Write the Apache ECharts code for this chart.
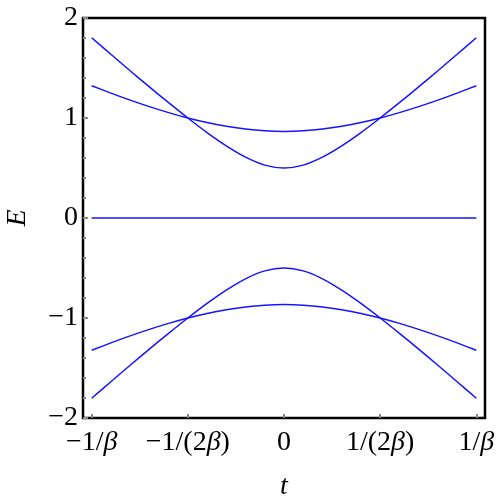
<!DOCTYPE html>
<html>
<head>
<meta charset="utf-8">
<script src="https://cdn.jsdelivr.net/npm/echarts@6/dist/echarts.min.js"></script>
<style>html,body{margin:0;padding:0;background:#fff}#c{width:500px;height:503px}</style>
</head>
<body>
<div id="c"></div>
<script>
// t in units of 1/beta
var tValues = [-1.0,-0.9,-0.8,-0.7,-0.6,-0.5,-0.4,-0.3,-0.2,-0.1,0.0,0.1,0.2,0.3,0.4,0.5,0.6,0.7,0.8,0.9,1.0];
var upperSteep = [1.803,1.637,1.473,1.311,1.153,1.000,0.854,0.721,0.608,0.529,0.500,0.529,0.608,0.721,0.854,1.000,1.153,1.311,1.473,1.637,1.803];
var upperFlat  = [1.323,1.249,1.179,1.114,1.054,1.000,0.954,0.917,0.889,0.872,0.866,0.872,0.889,0.917,0.954,1.000,1.054,1.114,1.179,1.249,1.323];
var zeroLine   = [0,0,0,0,0,0,0,0,0,0,0,0,0,0,0,0,0,0,0,0,0];
var lowerFlat  = [-1.323,-1.249,-1.179,-1.114,-1.054,-1.000,-0.954,-0.917,-0.889,-0.872,-0.866,-0.872,-0.889,-0.917,-0.954,-1.000,-1.054,-1.114,-1.179,-1.249,-1.323];
var lowerSteep = [-1.803,-1.637,-1.473,-1.311,-1.153,-1.000,-0.854,-0.721,-0.608,-0.529,-0.500,-0.529,-0.608,-0.721,-0.854,-1.000,-1.153,-1.311,-1.473,-1.637,-1.803];
var xTickValues = [-1, -0.5, 0, 0.5, 1];
var xTickLabels = ['{n|\u22121/}{b|\u03b2}', '{n|\u22121/(2}{b|\u03b2}{n|)}', '{n|0}', '{n|1/(2}{b|\u03b2}{n|)}', '{n|1/}{b|\u03b2}'];
var yTickLabels = {'-2':'\u22122','-1':'\u22121','0':'0','1':'1','2':'2'};

function pairs(ys){ return tValues.map(function(t,i){ return [t, ys[i]]; }); }

var FONT = '"Liberation Serif", "DejaVu Serif", serif';
var FS = 28;
var chart = echarts.init(document.getElementById('c'), null, {renderer:'canvas'});
var lineStyle = {color:'#1414ff', width:1.5};
function mk(name, ys){
  return {name:name, type:'line', data:pairs(ys), showSymbol:false, smooth:0.3,
          lineStyle:lineStyle, silent:true, animation:false};
}
chart.setOption({
  animation:false,
  backgroundColor:'#fff',
  grid:{left:83, right:15, top:18, bottom:85, outerBoundsMode:'none', containLabel:false,
        show:true, borderColor:'#000', borderWidth:2.5, backgroundColor:'transparent'},
  xAxis:{
    type:'value', min:-1.045, max:1.045,
    name:'t', nameLocation:'middle', nameGap:55,
    nameTextStyle:{fontFamily:FONT, fontStyle:'italic', fontSize:FS, color:'#000'},
    axisLine:{show:false, onZero:false},
    splitLine:{show:false},
    axisTick:{show:true, inside:true, length:4, customValues:xTickValues, lineStyle:{color:'#888', width:2}},
    axisLabel:{show:true, margin:11, customValues:xTickValues, hideOverlap:false,
      formatter:function(v){ var i = xTickValues.indexOf(Math.round(v*2)/2); return i>=0 ? xTickLabels[i] : ''; },
      rich:{n:{fontFamily:FONT, fontSize:FS, color:'#000'}, b:{fontFamily:FONT, fontSize:FS, fontStyle:'italic', color:'#000'}}
    }
  },
  yAxis:{
    type:'value', min:-2, max:2, interval:1,
    name:'E', nameLocation:'middle', nameGap:51, nameRotate:90,
    nameTextStyle:{fontFamily:FONT, fontStyle:'italic', fontSize:FS, color:'#000'},
    axisLine:{show:false, onZero:false},
    splitLine:{show:false},
    axisTick:{show:true, inside:true, length:5, lineStyle:{color:'#888', width:2}},
    minorTick:{show:true, splitNumber:5, length:3, lineStyle:{color:'#888', width:2}},
    axisLabel:{margin:5, fontFamily:FONT, fontSize:FS, color:'#000',
      formatter:function(v){ return yTickLabels[String(Math.round(v))]; }}
  },
  series:[mk('a',upperSteep), mk('b',upperFlat), mk('c',zeroLine), mk('d',lowerFlat), mk('e',lowerSteep)]
});
</script>
</body>
</html>
